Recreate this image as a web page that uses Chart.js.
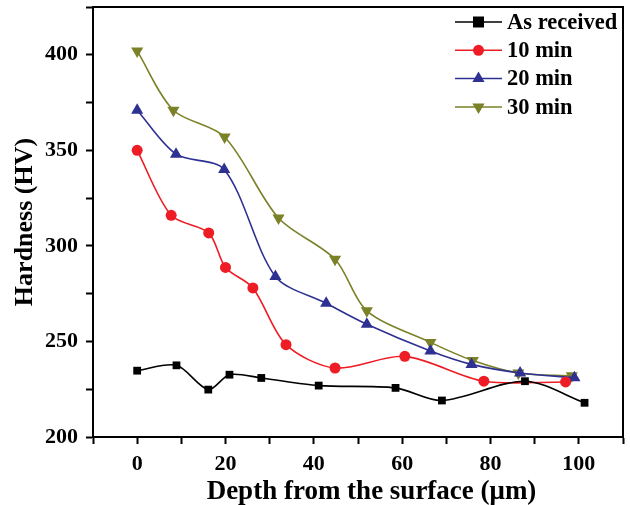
<!DOCTYPE html>
<html>
<head>
<meta charset="utf-8">
<script src="https://cdn.jsdelivr.net/npm/chart.js@4.4.1/dist/chart.umd.min.js"></script>
<style>
  html, body { margin:0; padding:0; background:#fff; }
  #wrap { width:630px; height:505px; position:relative; }
</style>
</head>
<body>
<div id="wrap"><canvas id="grafico"></canvas></div>
<script>
// Hardness vs depth
const seriesNomes = ['As received', '10 min', '20 min', '30 min'];

const xAsRec = [0, 8.9, 16.1, 20.9, 28.1, 41.1, 58.5, 69, 87.8, 101.3];
const yAsRec = [234.7, 237.5, 224.8, 232.6, 230.9, 226.9, 225.7, 219.1, 229.2, 217.9];

const x10 = [0, 7.7, 16.2, 20, 26.2, 33.7, 44.8, 60.6, 78.5, 97];
const y10 = [350, 316, 306.8, 288.7, 278, 248.3, 236.1, 242.2, 229.2, 228.8];

const x20 = [0, 8.8, 19.7, 31.3, 42.8, 52, 66.4, 75.7, 86.7, 99];
const y20 = [371, 348, 340, 284, 270, 259, 245, 238, 233.5, 231];

const x30 = [0, 8.2, 19.8, 32, 44.8, 52, 66.4, 76, 86.3, 98.4];
const y30 = [402, 371, 357, 314.6, 293, 266, 249.5, 240, 233.5, 232];

const xTickLabels = [0, 20, 40, 60, 80, 100];
const yTickLabels = [200, 250, 300, 350, 400];

const cores = ['#000000', '#ee1c24', '#2e3192', '#7b8127'];
const marcadores = [
  { style:'rect', rot:0, r:5.5 },
  { style:'circle', rot:0, r:5.5 },
  { style:'triangle', rot:0, r:7 },
  { style:'triangle', rot:180, r:7 },
];

const fonteSerif = "'Liberation Serif', 'Times New Roman', serif";

function pontos(xs, ys) { return xs.map((x, i) => ({ x, y: ys[i] })); }

const dadosSeries = [pontos(xAsRec, yAsRec), pontos(x10, y10), pontos(x20, y20), pontos(x30, y30)];

function desenhaMarcador(ctx, m, cor, x, y) {
  ctx.save();
  ctx.fillStyle = cor;
  ctx.beginPath();
  if (m.style === 'rect') {
    ctx.rect(x - m.r, y - m.r, m.r * 2, m.r * 2);
  } else if (m.style === 'circle') {
    ctx.arc(x, y, m.r, 0, Math.PI * 2);
  } else {
    const s = m.rot === 180 ? -1 : 1;
    ctx.moveTo(x, y - s * m.r);
    ctx.lineTo(x + m.r * 0.87, y + s * m.r * 0.5);
    ctx.lineTo(x - m.r * 0.87, y + s * m.r * 0.5);
    ctx.closePath();
  }
  ctx.fill();
  ctx.restore();
}

// moldura + legenda dentro da área
const molduraLegenda = {
  id: 'molduraLegenda',
  afterDraw(chart) {
    const { ctx, chartArea: a } = chart;
    ctx.save();
    ctx.strokeStyle = '#000';
    ctx.lineWidth = 2;
    ctx.strokeRect(a.left, a.top, a.right - a.left, a.bottom - a.top);

    ctx.font = `bold 22.5px ${fonteSerif}`;
    ctx.textBaseline = 'middle';
    seriesNomes.forEach((nome, i) => {
      const y = 22 + i * 28.3;
      ctx.strokeStyle = cores[i];
      ctx.lineWidth = 1.5;
      ctx.beginPath();
      ctx.moveTo(455, y);
      ctx.lineTo(502, y);
      ctx.stroke();
      desenhaMarcador(ctx, marcadores[i], cores[i], 478.5, y);
      ctx.fillStyle = '#000';
      ctx.fillText(nome, 507, y + 1);
    });
    ctx.restore();
  }
};

const datasets = dadosSeries.map((d, i) => ({
  label: seriesNomes[i],
  data: d,
  borderColor: cores[i],
  backgroundColor: cores[i],
  borderWidth: 1.6,
  tension: 0.3,
  pointStyle: marcadores[i].style,
  pointRotation: marcadores[i].rot,
  pointRadius: marcadores[i].r,
  pointBorderWidth: 0,
  fill: false,
}));

const ctx = document.getElementById('grafico').getContext('2d');
new Chart(ctx, {
  type: 'line',
  data: { datasets },
  plugins: [molduraLegenda],
  options: {
    responsive: true, maintainAspectRatio: false, animation: false,
    layout: { padding: { top: -2, right: 5, left: 0, bottom: 0 } },
    plugins: { legend: { display:false }, tooltip: { enabled:false } },
    scales: {
      x: {
        type: 'linear', min: -10, max: 110,
        afterFit: s => { s.height = 68; s.paddingLeft = 0; s.paddingRight = 0; },
        afterBuildTicks: s => { s.ticks = []; for (let v = -10; v <= 110; v += 10) s.ticks.push({ value: v }); },
        ticks: {
          font: { family: fonteSerif, size: 22, weight: 'bold' }, color: '#000', padding: 7,
          callback: v => xTickLabels.includes(v) ? String(v) : ''
        },
        grid: { drawOnChartArea:false, drawTicks:true, tickLength:7, tickWidth:2, tickColor:'#000' },
        border: { display:true, color:'#000', width:2 },
        title: {
          display: true, text: '\u00a0\u00a0\u00a0\u00a0Depth from the surface (\u03bcm)', color: '#000',
          font: { family: fonteSerif, size: 27, weight: 'bold', lineHeight: 1 }, padding: { top: 0, bottom: -1 }
        }
      },
      y: {
        type: 'linear', min: 200, max: 425,
        afterFit: s => { s.width = 93; s.paddingTop = 0; s.paddingBottom = 0; },
        afterBuildTicks: s => { s.ticks = []; for (let v = 200; v <= 425; v += 25) s.ticks.push({ value: v }); },
        ticks: {
          font: { family: fonteSerif, size: 22, weight: 'bold' }, color: '#000', padding: 8,
          callback: v => yTickLabels.includes(v) ? String(v) : ''
        },
        grid: { drawOnChartArea:false, drawTicks:true, tickLength:7, tickWidth:2, tickColor:'#000' },
        border: { display:true, color:'#000', width:2 },
        title: {
          display: true, text: 'Hardness (HV)', color: '#000',
          font: { family: fonteSerif, size: 26, weight: 'bold', lineHeight: 1 }, padding: { top: 12, bottom: 0 }
        }
      }
    }
  }
});
</script>
</body>
</html>
